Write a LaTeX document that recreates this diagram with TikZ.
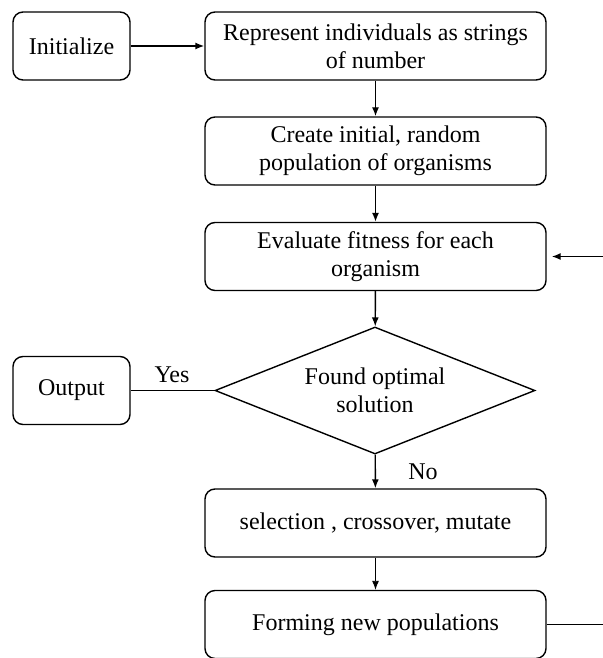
\documentclass[tikz,border=0pt]{standalone}
\usepackage{fontspec}
\setmainfont{Liberation Serif}
\usetikzlibrary{arrows.meta,shapes.geometric}

\begin{document}
\begin{tikzpicture}[x=0.5pt,y=-0.5pt,
    txt/.style={font=\fontsize{12}{14}\selectfont},
    box/.style={draw,txt,rounded corners=5pt,line width=0.7pt,align=center,
        minimum width=170.5pt,minimum height=34pt,inner sep=0pt},
    smallbox/.style={box,minimum width=58.5pt},
    decision/.style={draw,txt,diamond,aspect=2.52,line width=0.7pt,align=center,
        minimum width=160pt,minimum height=63.5pt,inner sep=0pt},
    link/.style={line width=0.7pt,-{Latex[length=4.5pt,width=3.5pt]}}]
    \useasboundingbox (0,0) rectangle (603,658);
    %\draw[help lines] (0,0) grid[step=50] (603,658);
    \node[smallbox] (init) at (71.5,46) {Initialize};
    \node[box] (repr) at (375.5,46) {Represent individuals as strings\\of number};
    \node[box] (create) at (375.5,151) {Create initial, random\\population of organisms};
    \node[box] (eval) at (375.5,256.5) {Evaluate fitness for each\\organism};
    \node[decision] (found) at (375,390.5) {Found optimal\\solution};
    \node[smallbox] (output) at (71.5,390.5) {Output};
    \node[box] (select) at (375.5,523) {selection , crossover, mutate};
    \node[box] (form) at (375.5,624.5) {Forming new populations};
    \node[txt] (yes) at (172,375) {Yes};
    \node[txt] (no) at (423,472) {No};
    \coordinate (loopbot) at (606,624.5);
    \coordinate (looptop) at (606,256.5);
    \draw[link] (init) -- (repr);
    \draw[link] (repr) -- (create);
    \draw[link] (create) -- (eval);
    \draw[link] (eval) -- (found);
    \draw[line width=0.7pt] (found.west) -- (output.east);
    \draw[link] (found) -- (select);
    \draw[link,line width=0.45pt] (select) -- (form);
    \draw[link,shorten >=2.5pt] (form.east) -- (loopbot) -- (looptop) -- (eval.east);
\end{tikzpicture}
\end{document}
